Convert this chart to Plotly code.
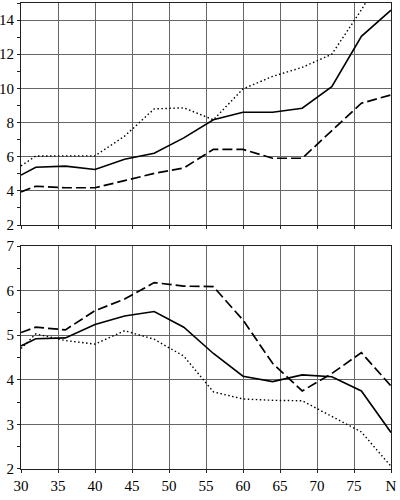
import plotly.graph_objects as go

# age points (80 shown as "N")
ages = [30, 32, 36, 40, 44, 48, 52, 56, 60, 64, 68, 72, 76, 80]

# upper panel
top_solid = [4.92, 5.38, 5.45, 5.25, 5.85, 6.2, 7.1, 8.16, 8.6, 8.6, 8.84, 10.1, 13.05, 14.58]
top_dot = [5.46, 6.04, 6.05, 6.05, 7.2, 8.8, 8.86, 8.16, 9.97, 10.7, 11.23, 12.0, 14.6, 17.5]
top_dash = [3.94, 4.27, 4.18, 4.18, 4.6, 5.02, 5.34, 6.43, 6.43, 5.91, 5.91, 7.52, 9.13, 9.62]

# lower panel
bot_solid = [4.76, 4.92, 4.94, 5.24, 5.43, 5.53, 5.18, 4.59, 4.08, 3.96, 4.11, 4.07, 3.75, 2.82]
bot_dot = [4.7, 5.03, 4.88, 4.8, 5.1, 4.91, 4.53, 3.73, 3.57, 3.54, 3.53, 3.18, 2.83, 2.06]
bot_dash = [5.06, 5.18, 5.12, 5.55, 5.81, 6.18, 6.1, 6.09, 5.34, 4.37, 3.75, 4.14, 4.61, 3.86]

xticks = [30, 35, 40, 45, 50, 55, 60, 65, 70, 75, 80]
xlabels = ["30", "35", "40", "45", "50", "55", "60", "65", "70", "75", "N"]

fig = go.Figure()

styles = [("solid", 1.6), ("1.5px,2.5px", 1.4), ("10px,4px", 1.7)]
for ys, (dash, w) in zip([top_solid, top_dot, top_dash], styles):
    fig.add_trace(go.Scatter(x=ages, y=ys, mode="lines", xaxis="x", yaxis="y",
                             line=dict(color="black", width=w, dash=dash)))
for ys, (dash, w) in zip([bot_solid, bot_dot, bot_dash], styles):
    fig.add_trace(go.Scatter(x=ages, y=ys, mode="lines", xaxis="x2", yaxis="y2",
                             line=dict(color="black", width=w, dash=dash)))

tfont = dict(family="Liberation Serif, DejaVu Sans Mono", size=15)
ax = dict(showline=True, mirror=True, linecolor="#222", linewidth=1,
          showgrid=True, gridcolor="#666", gridwidth=1, zeroline=False,
          ticks="outside", ticklen=3, tickcolor="#222", automargin=False,
          tickfont=tfont)

fig.update_layout(
    width=400, height=500,
    margin=dict(l=21, r=9, t=3, b=31),
    paper_bgcolor="white", plot_bgcolor="white",
    showlegend=False,
    font=dict(tfont, color="black"),
    xaxis=dict(ax, range=[30, 80], tickvals=xticks, showticklabels=False,
               anchor="y", domain=[0, 1]),
    yaxis=dict(ax, range=[2, 15], tickvals=[2, 4, 6, 8, 10, 12, 14],
               domain=[0.5236, 1], anchor="x",
               minor=dict(dtick=1, ticks="outside", ticklen=3, tickcolor="#222", showgrid=False)),
    xaxis2=dict(ax, range=[30, 80], tickvals=xticks, ticktext=xlabels,
                anchor="y2", domain=[0, 1]),
    yaxis2=dict(ax, range=[2, 7], tickvals=[2, 3, 4, 5, 6, 7],
                domain=[0, 0.4785], anchor="x2",
                minor=dict(dtick=0.5, ticks="outside", ticklen=3, tickcolor="#222", showgrid=False)),
)

# page body has a default 8px margin; drop it so the figure sits at the corner
fig.write_html("out.html", config={"displayModeBar": False},
               post_script="document.body.style.margin='0';")
